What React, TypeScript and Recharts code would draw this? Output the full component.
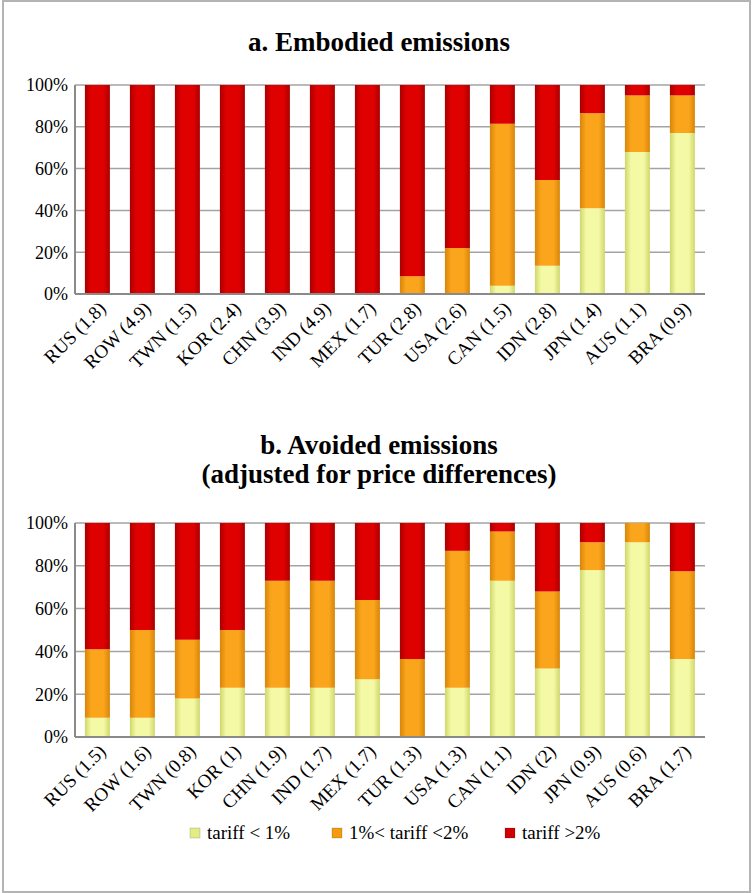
import React from 'react';
import { BarChart, Bar, XAxis, YAxis, CartesianGrid, Legend } from 'recharts';

// Shares of each country's emissions by tariff band.
const countriesA = ['RUS (1.8)', 'ROW (4.9)', 'TWN (1.5)', 'KOR (2.4)', 'CHN (3.9)', 'IND (4.9)', 'MEX (1.7)', 'TUR (2.8)', 'USA (2.6)', 'CAN (1.5)', 'IDN (2.8)', 'JPN (1.4)', 'AUS (1.1)', 'BRA (0.9)'];
const lowA = [0, 0, 0, 0, 0, 0, 0, 0, 0, 4, 13.5, 41, 68, 77];
const midA = [0, 0, 0, 0, 0, 0, 0, 8.5, 22, 77.5, 41, 45.5, 27, 18];
const highA = [100, 100, 100, 100, 100, 100, 100, 91.5, 78, 18.5, 45.5, 13.5, 5, 5];

const countriesB = ['RUS (1.5)', 'ROW (1.6)', 'TWN (0.8)', 'KOR (1)', 'CHN (1.9)', 'IND (1.7)', 'MEX (1.7)', 'TUR (1.3)', 'USA (1.3)', 'CAN (1.1)', 'IDN (2)', 'JPN (0.9)', 'AUS (0.6)', 'BRA (1.7)'];
const lowB = [9, 9, 18, 23, 23, 23, 27, 0, 23, 73, 32, 78, 91, 36.5];
const midB = [32, 41, 27.5, 27, 50, 50, 37, 36.5, 64, 23, 36, 13, 9, 41];
const highB = [59, 50, 54.5, 50, 27, 27, 36, 63.5, 13, 4, 32, 9, 0, 22.5];

const yTicks = [0, 0.2, 0.4, 0.6, 0.8, 1];
const seriesNames = ['tariff < 1%', '1%< tariff <2%', 'tariff >2%'];

const serif = 'Liberation Serif, DejaVu Serif, serif';
const colors = [
  { edge: '#cfd76a', mid: '#f4f9a6', key: 'low' },
  { edge: '#d8860a', mid: '#fba51c', key: 'mid' },
  { edge: '#aa0000', mid: '#df0000', key: 'high' },
];
const legendColors = ['#e4ec86', '#f39a10', '#d00000'];
const legendX = [175, 317, 490];

function build(names: string[], low: number[], mid: number[], high: number[]) {
  return names.map((name, i) => ({ name, low: low[i], mid: mid[i], high: high[i] }));
}

// legend drawn as svg so it uses the same serif face as the axes
function LegendRow() {
  return (
    <svg width={753} height={32} style={{ display: 'block' }}>
      {seriesNames.map((s, i) => (
        <g key={s}>
          <rect x={legendX[i]} y={11} width={10} height={10} fill={legendColors[i]} stroke="rgba(0,0,0,0.15)" />
          <text x={legendX[i] + 17} y={22} fontSize={19} fontFamily={serif} fill="#000">{s}</text>
        </g>
      ))}
    </svg>
  );
}

function Panel({ id, data, height, top, bottom, legend }: { id: string; data: any[]; height: number; top: number; bottom: number; legend?: boolean }) {
  return (
    <BarChart width={753} height={height} data={data} stackOffset="expand" barCategoryGap="22%"
      margin={{ top, right: 48, bottom, left: 15 }}>
      <defs>
        {colors.map((c) => (
          <linearGradient key={c.key} id={`${id}-${c.key}`} x1="0" y1="0" x2="1" y2="0">
            <stop offset="0%" stopColor={c.edge} />
            <stop offset="25%" stopColor={c.mid} />
            <stop offset="75%" stopColor={c.mid} />
            <stop offset="100%" stopColor={c.edge} />
          </linearGradient>
        ))}
      </defs>
      <CartesianGrid vertical={false} stroke="#a3a3a3" strokeWidth={1.5} />
      <XAxis dataKey="name" interval={0} angle={-45} textAnchor="end" height={80}
        tickLine={false} tickSize={0} tickMargin={6}
        axisLine={{ stroke: '#8a8a8a', strokeWidth: 2 }}
        tick={{ fontSize: 19, fill: '#000', fontFamily: serif }} />
      <YAxis domain={[0, 1]} ticks={yTicks} width={60} tickLine={false} tickSize={0} tickMargin={7}
        axisLine={{ stroke: '#8a8a8a', strokeWidth: 2 }}
        tickFormatter={(v: number) => `${Math.round(v * 100)}%`}
        tick={{ fontSize: 18, fill: '#000', fontFamily: serif }} />
      {colors.map((c, i) => (
        <Bar key={c.key} dataKey={c.key} name={seriesNames[i]} stackId="s" fill={`url(#${id}-${c.key})`} isAnimationActive={false} />
      ))}
      {legend && <Legend verticalAlign="bottom" height={32} content={() => <LegendRow />} />}
    </BarChart>
  );
}

export default function App() {
  const t = { fontFamily: serif, fontWeight: 'bold', fontSize: 27, fill: '#000', textAnchor: 'middle' as const };
  return (
    <div style={{ position: 'absolute', left: 0, top: 0, width: 753, height: 893, background: '#fff' }}>
      <div style={{ position: 'absolute', left: 2, top: 0, width: 745, height: 889, border: '2px solid #b4b4b4' }} />
      <div style={{ position: 'absolute', left: 0, top: 0 }}>
        <Panel id="a" data={build(countriesA, lowA, midA, highA)} height={400} top={85} bottom={26} />
      </div>
      <div style={{ position: 'absolute', left: 0, top: 440 }}>
        <Panel id="b" data={build(countriesB, lowB, midB, highB)} height={453} top={83} bottom={44} legend />
      </div>
      <svg width={753} height={893} style={{ position: 'absolute', left: 0, top: 0, pointerEvents: 'none' }}>
        <text x={379} y={51} {...t}>a. Embodied emissions</text>
        <text x={379} y={454} {...t}>b. Avoided emissions</text>
        <text x={379} y={483} {...t}>(adjusted for price differences)</text>
      </svg>
    </div>
  );
}
